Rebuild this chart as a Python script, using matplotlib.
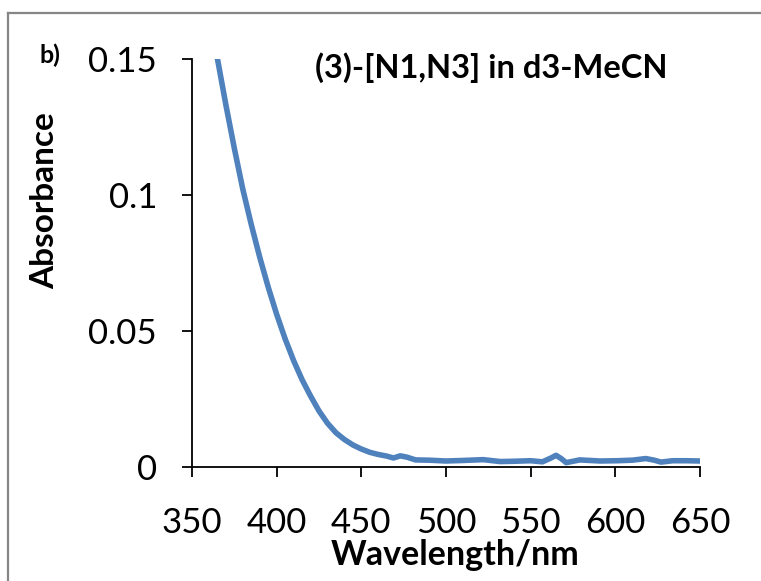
import numpy as np
import matplotlib
matplotlib.use("Agg")
import matplotlib.pyplot as plt
from matplotlib.lines import Line2D

# absorbance spectrum
wavelength = [365, 370, 375, 380, 385, 390, 395, 400, 405, 410, 415, 420, 425,
              430, 435, 440, 445, 450, 455, 460, 465, 469, 473, 477, 482, 490,
              500, 510, 522, 532, 540, 550, 557, 562, 565, 568, 571, 579, 591,
              601, 610, 618, 623, 627, 634, 642, 650]
absorbance = [0.150, 0.133, 0.117, 0.102, 0.089, 0.077, 0.066, 0.056, 0.047,
              0.039, 0.032, 0.026, 0.0205, 0.016, 0.0125, 0.0100, 0.0080,
              0.0065, 0.0053, 0.0045, 0.0039, 0.0032, 0.0040, 0.0035, 0.0025,
              0.0024, 0.0021, 0.0023, 0.0026, 0.0019, 0.0020, 0.0022, 0.0018,
              0.0032, 0.0042, 0.0030, 0.0015, 0.0025, 0.0021, 0.0022, 0.0024,
              0.0030, 0.0024, 0.0017, 0.0022, 0.0022, 0.0021]

x_ticks = [350, 400, 450, 500, 550, 600, 650]
y_ticks = [0, 0.05, 0.1, 0.15]
y_tick_labels = ["0", "0.05", "0.1", "0.15"]

plt.rcParams['font.family'] = ['Lato', 'DejaVu Sans']

fig = plt.figure(figsize=(7.61, 5.81), dpi=100)
ax = fig.add_axes([0.2523, 0.1967, 0.6675, 0.7026])

ax.plot(wavelength, absorbance, color='#4F81BD', linewidth=4.0,
        solid_joinstyle='round', zorder=3)

ax.set_xlim(350, 650)
ax.set_ylim(0, 0.15)
ax.set_xticks(x_ticks)
ax.set_yticks(y_ticks)
ax.set_yticklabels(y_tick_labels)
ax.tick_params(axis='x', direction='out', length=7.2, width=1.3, pad=22,
               labelsize=25)
ax.tick_params(axis='y', direction='out', length=7.2, width=1.3, pad=18,
               labelsize=25)
ax.spines['top'].set_visible(False)
ax.spines['right'].set_visible(False)
ax.spines['left'].set_linewidth(1.3)
ax.spines['bottom'].set_linewidth(1.3)

fig.text(0.645, 0.883, "(3)-[N1,N3] in d3-MeCN", fontsize=23.5,
         fontweight='bold', ha='center', va='center')
fig.text(0.065, 0.905, "b)", fontsize=18, fontweight='bold',
         ha='center', va='center')
fig.text(0.059, 0.654, "Absorbance", fontsize=24, fontweight='bold',
         rotation=90, ha='center', va='center')
fig.text(0.598, 0.044, "Wavelength/nm", fontsize=24.5, fontweight='bold',
         ha='center', va='center')

# chart-area frame (only left and top edges are visible)
fig.add_artist(Line2D([0.0099, 0.0099], [0.0, 0.9776], color='#868686',
                      linewidth=1.6, transform=fig.transFigure))
fig.add_artist(Line2D([0.0099, 1.0], [0.9776, 0.9776], color='#868686',
                      linewidth=1.6, transform=fig.transFigure))

fig.savefig("out.png", dpi=100)
